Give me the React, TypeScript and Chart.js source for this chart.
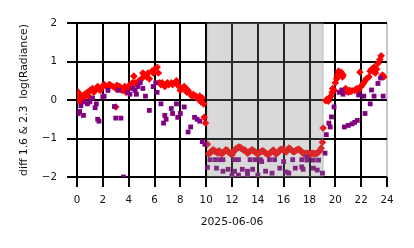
import React, { useEffect, useRef } from "react";
import { Chart, registerables } from "chart.js";

Chart.register(...registerables);

const X_TICKS = [0, 2, 4, 6, 8, 10, 12, 14, 16, 18, 20, 22, 24];
const Y_TICKS = [-2, -1, 0, 1, 2];
const X_TITLE = "2025-06-06";
const Y_TITLE = "diff 1.6 & 2.3  log(Radiance)";
const SHADE_START = 10.1;
const SHADE_END = 19.05;

const redHours = [
  0.0, 0.1, 0.2, 0.3, 0.4, 0.5, 0.6, 0.8, 0.9, 1.0, 1.2, 1.3, 1.4, 1.6, 1.7, 1.8, 2.0, 2.1, 2.3, 2.5,
  2.6, 2.8, 3.0, 3.0, 3.1, 3.3, 3.4, 3.5, 3.7, 3.8, 3.9, 4.1, 4.2, 4.3, 4.4, 4.5, 4.7, 4.8, 5.0, 5.1,
  5.2, 5.4, 5.5, 5.6, 5.8, 5.9, 6.0, 6.2, 6.3, 6.4, 6.5, 6.6, 6.8, 6.9, 7.0, 7.1, 7.3, 7.4, 7.6, 7.7,
  7.8, 7.9, 8.0, 8.2, 8.3, 8.4, 8.5, 8.6, 8.8, 8.9, 9.0, 9.2, 9.3, 9.5, 9.6, 9.7, 9.8, 9.85, 9.95, 10.1,
  10.2, 10.3, 10.4, 10.5, 10.6, 10.7, 10.8, 10.9, 11.0, 11.1, 11.2, 11.3, 11.4, 11.5, 11.6, 11.7, 11.8, 11.9, 12.0, 12.1,
  12.2, 12.3, 12.4, 12.5, 12.6, 12.7, 12.8, 12.9, 13.0, 13.1, 13.2, 13.3, 13.4, 13.5, 13.6, 13.7, 13.8, 13.9, 14.0, 14.1,
  14.2, 14.3, 14.4, 14.5, 14.6, 14.7, 14.8, 14.9, 15.0, 15.1, 15.2, 15.3, 15.4, 15.5, 15.6, 15.7, 15.8, 15.9, 16.0, 16.1,
  16.2, 16.3, 16.4, 16.5, 16.6, 16.7, 16.8, 16.9, 17.0, 17.1, 17.2, 17.3, 17.4, 17.5, 17.6, 17.7, 17.8, 17.9, 18.0, 18.1,
  18.2, 18.3, 18.4, 18.5, 18.6, 18.7, 18.8, 18.9, 19.0, 19.05, 19.25, 19.35, 19.45, 19.55, 19.65, 19.75, 19.8, 19.9, 20.0, 20.1,
  20.15, 20.25, 20.35, 20.45, 20.55, 20.6, 20.8, 20.9, 21.0, 21.1, 21.2, 21.3, 21.5, 21.6, 21.7, 21.8, 21.9, 22.0, 22.1, 22.2,
  22.3, 22.4, 22.6, 22.7, 22.8, 22.9, 23.0, 23.1, 23.2, 23.3, 23.45, 23.55, 23.65, 23.75,
];
const redValues = [
  0.0, 0.2, 0.1, -0.05, 0.1, 0.05, 0.15, 0.2, 0.1, 0.25, 0.3, 0.2, 0.25, 0.35, 0.3, 0.25, 0.35, 0.4, 0.35, 0.4,
  0.38, 0.35, 0.3, -0.18, 0.38, 0.35, 0.3, 0.25, 0.35, 0.2, 0.3, 0.4, 0.35, 0.45, 0.62, 0.45, 0.4, 0.5, 0.55, 0.7,
  0.65, 0.6, 0.7, 0.55, 0.75, 0.7, 0.8, 0.85, 0.7, 0.45, 0.4, 0.45, 0.35, 0.4, 0.45, 0.4, 0.45, 0.4, 0.45, 0.5,
  0.4, 0.35, 0.25, 0.3, 0.35, 0.3, 0.2, 0.25, 0.15, 0.1, 0.15, 0.1, 0.05, 0.1, -0.05, 0.05, -0.1, -0.45, -0.6, -1.15,
  -1.4, -1.36, -1.35, -1.3, -1.3, -1.34, -1.35, -1.38, -1.32, -1.36, -1.4, -1.37, -1.35, -1.3, -1.3, -1.34, -1.37, -1.4, -1.42, -1.36,
  -1.3, -1.27, -1.25, -1.23, -1.22, -1.25, -1.28, -1.3, -1.3, -1.34, -1.38, -1.36, -1.33, -1.3, -1.3, -1.33, -1.35, -1.38, -1.4, -1.37,
  -1.35, -1.33, -1.32, -1.35, -1.38, -1.4, -1.42, -1.39, -1.36, -1.33, -1.3, -1.35, -1.4, -1.38, -1.35, -1.3, -1.28, -1.29, -1.3, -1.33,
  -1.35, -1.3, -1.25, -1.27, -1.3, -1.33, -1.35, -1.32, -1.3, -1.29, -1.28, -1.31, -1.35, -1.38, -1.4, -1.39, -1.38, -1.4, -1.42, -1.4,
  -1.38, -1.39, -1.4, -1.39, -1.38, -1.35, -1.32, -1.25, -1.1, -0.73, -0.02, 0.02, -0.03, 0.05, 0.1, 0.2, 0.3, 0.25, 0.45, 0.55,
  0.65, 0.75, 0.7, 0.72, 0.6, 0.65, 0.3, 0.22, 0.2, 0.25, 0.22, 0.24, 0.25, 0.28, 0.3, 0.25, 0.72, 0.35, 0.4, 0.45,
  0.5, 0.55, 0.6, 0.75, 0.8, 0.75, 0.85, 0.7, 0.8, 0.95, 1.05, 1.15, 0.65, 0.6,
];

const purpleHours = [
  0.1, 0.2, 0.3, 0.5, 0.6, 0.8, 1.0, 1.2, 1.4, 1.5, 1.6, 1.7, 2.0, 2.1, 2.4, 2.9, 3.0, 3.2, 3.4, 3.6,
  3.9, 4.1, 4.3, 4.5, 4.6, 4.7, 4.9, 5.1, 5.3, 5.6, 5.9, 6.1, 6.2, 6.5, 6.7, 6.8, 6.9, 7.3, 7.4, 7.7,
  7.8, 8.0, 8.3, 8.6, 8.8, 9.1, 9.3, 9.5, 9.7, 9.9, 10.1, 10.3, 10.7, 10.8, 11.05, 11.3, 11.3, 11.7, 12.0, 12.2,
  12.2, 12.5, 12.5, 12.8, 13.2, 13.2, 13.4, 13.6, 13.8, 14.0, 14.2, 14.3, 14.6, 14.9, 15.1, 15.3, 15.7, 16.0, 16.2, 16.4,
  16.7, 16.9, 17.4, 17.4, 17.5, 17.8, 17.8, 18.3, 18.3, 18.6, 18.7, 19.0, 19.2, 19.3, 19.5, 19.6, 19.7, 19.9, 20.3, 20.5,
  20.6, 20.7, 21.0, 21.3, 21.5, 21.7, 21.8, 22.2, 22.3, 22.7, 22.8, 23.0, 23.3, 23.5, 23.7,
];
const purpleValues = [
  -0.35, -0.3, -0.15, -0.4, -0.05, -0.1, -0.05, 0.05, -0.2, -0.1, -0.5, -0.55, 0.08, 0.1, 0.25, -0.17, -0.47, 0.25, -0.47, -2.0,
  0.2, 0.15, 0.3, 0.25, 0.15, 0.35, 0.45, 0.3, 0.1, -0.27, 0.35, 0.45, 0.2, -0.1, -0.6, -0.4, -0.5, -0.22, -0.35, -0.1,
  -0.45, -0.35, -0.18, -0.83, -0.7, -0.45, -0.5, -0.55, -1.08, -1.15, -1.75, -1.55, -1.55, -1.77, -1.55, -1.55, -1.85, -1.8, -1.95, -1.55,
  -1.85, -1.55, -1.95, -1.8, -1.85, -1.95, -1.55, -1.8, -1.55, -1.95, -1.55, -1.6, -1.85, -1.55, -1.9, -1.55, -1.77, -1.6, -1.87, -1.9,
  -1.55, -1.77, -1.55, -1.74, -1.8, -1.48, -1.56, -1.56, -1.77, -1.82, -1.56, -1.9, -1.38, -0.9, -0.6, -0.7, -0.44, -0.18, 0.2, 0.26,
  0.15, -0.7, -0.66, -0.62, -0.58, -0.53, 0.13, 0.1, -0.35, -0.1, 0.26, 0.1, 0.43, 0.57, 0.1,
];

const FONT = "'DejaVu Sans', sans-serif";

const shadePlugin = {
  id: "shadeSpan",
  afterDatasetsDraw(chart: any) {
    const { ctx, chartArea, scales } = chart;
    const x0 = scales.x.getPixelForValue(SHADE_START);
    const x1 = scales.x.getPixelForValue(SHADE_END);
    ctx.save();
    ctx.fillStyle = "rgba(128,128,128,0.3)";
    ctx.fillRect(x0, chartArea.top, x1 - x0, chartArea.bottom - chartArea.top);
    ctx.strokeStyle = "rgba(128,128,128,0.3)";
    ctx.lineWidth = 1.5;
    ctx.strokeRect(x0, chartArea.top, x1 - x0, chartArea.bottom - chartArea.top);
    ctx.restore();
  },
};

export default function App() {
  const ref = useRef<HTMLCanvasElement | null>(null);
  useEffect(() => {
    if (!ref.current) return;
    const red = redHours.map((h, i) => ({ x: h, y: redValues[i] }));
    const purple = purpleHours.map((h, i) => ({ x: h, y: purpleValues[i] }));
    const chart = new Chart(ref.current, {
      type: "scatter",
      data: {
        datasets: [
          {
            data: purple,
            pointStyle: "rect",
            pointRadius: 3.4,
            pointBorderWidth: 0,
            backgroundColor: "#800080",
            borderColor: "#800080",
          },
          {
            data: red,
            pointStyle: "rectRot",
            pointRadius: 3.8,
            pointBorderWidth: 0,
            backgroundColor: "#ff0000",
            borderColor: "#ff0000",
          },
        ],
      },
      options: {
        responsive: false,
        animation: false,
        events: [],
        layout: { padding: { top: 23, right: 27, left: 0, bottom: 0 } },
        plugins: { legend: { display: false }, tooltip: { enabled: false } },
        scales: {
          x: {
            type: "linear",
            min: 0,
            max: 24,
            z: 1,
            afterFit: (s: any) => {
              s.height = 71;
            },
            afterBuildTicks: (s: any) => {
              s.ticks = X_TICKS.map((v) => ({ value: v }));
            },
            ticks: {
              color: "#111",
              font: { family: FONT, size: 10.3 },
              padding: 7,
              maxRotation: 0,
              autoSkip: false,
            },
            grid: {
              color: (c: any) => (c.tick && c.tick.value === 24 ? "#c8c8c8" : "#000"),
              tickColor: "#000",
              lineWidth: 2,
              tickLength: 10,
            },
            border: { display: false },
            title: {
              display: true,
              text: X_TITLE,
              color: "#111",
              font: { family: FONT, size: 10.8 },
              padding: { top: 0, bottom: 19 },
            },
          },
          y: {
            type: "linear",
            min: -2,
            max: 2,
            z: 1,
            afterFit: (s: any) => {
              s.width = 77;
            },
            afterBuildTicks: (s: any) => {
              s.ticks = Y_TICKS.map((v) => ({ value: v }));
            },
            ticks: {
              color: "#111",
              font: { family: FONT, size: 10.3 },
              padding: 10,
              callback: (v: any) => String(v).replace("-", "\u2212"),
            },
            grid: {
              color: "#000",
              tickColor: "#000",
              lineWidth: 2,
              tickLength: 10,
            },
            border: { display: false },
            title: {
              display: true,
              text: Y_TITLE,
              color: "#111",
              font: { family: FONT, size: 10.8 },
              padding: { top: 18, bottom: 0 },
            },
          },
        },
      },
      plugins: [shadePlugin],
    });
    return () => chart.destroy();
  }, []);
  return (
    <div style={{ position: "fixed", left: 0, top: 0, width: 414, height: 248, background: "#fff" }}>
      <canvas ref={ref} width={414} height={248} />
    </div>
  );
}
